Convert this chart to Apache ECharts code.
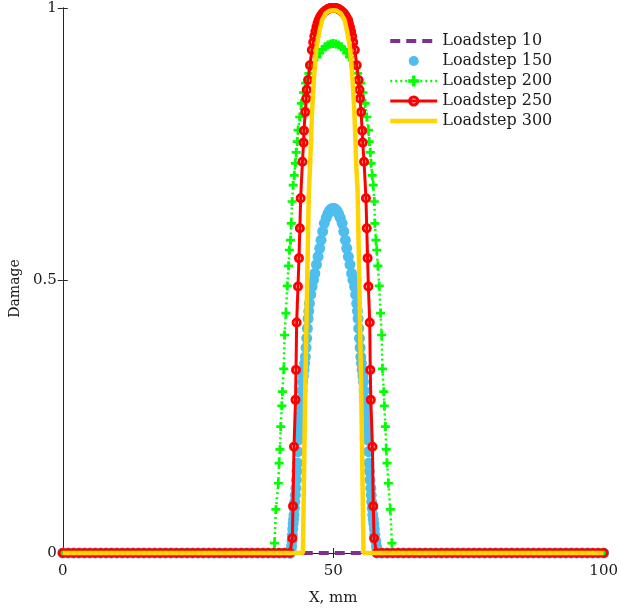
<!DOCTYPE html>
<html>
<head>
<meta charset="utf-8">
<script src="https://cdn.jsdelivr.net/npm/echarts@6/dist/echarts.min.js"></script>
<style>
html, body { margin: 0; padding: 0; background: #fff; }
#chart { width: 621px; height: 613px; }
</style>
</head>
<body>
<div id="chart"></div>
<script>
// mesh nodes (mm) where the damage is still zero
const meshX = [
  0, 1, 2, 3, 4, 5, 6, 7, 8, 9, 10, 11, 12, 13, 14, 15, 16, 17, 18, 19, 20,
  21, 22, 23, 24, 25, 26, 27, 28, 29, 30, 31, 32, 33, 34, 35, 36, 37, 38, 39, 40,
  41, 42, 43, 44, 45, 46, 47, 48, 49, 50, 51, 52, 53, 54, 55, 56, 57, 58, 59, 60,
  61, 62, 63, 64, 65, 66, 67, 68, 69, 70, 71, 72, 73, 74, 75, 76, 77, 78, 79, 80,
  81, 82, 83, 84, 85, 86, 87, 88, 89, 90, 91, 92, 93, 94, 95, 96, 97, 98, 99, 100
]

const xTicks = [0, 50, 100]
const yTicks = [0, 0.5, 1]

// damaged zone of each loadstep: [x, damage]
const step150 = [
  [42.1, 0], [42.2, 0.006], [42.3, 0.012], [42.38, 0.022], [42.45, 0.033], [42.52, 0.044],
  [42.6, 0.054], [42.68, 0.062], [42.75, 0.07], [42.82, 0.082], [42.9, 0.094], [43.0, 0.106],
  [43.1, 0.119], [43.2, 0.134], [43.3, 0.15], [43.4, 0.165], [43.48, 0.186], [43.55, 0.207],
  [43.65, 0.222], [43.75, 0.238], [43.88, 0.253], [44.0, 0.268], [44.15, 0.281], [44.25, 0.298],
  [44.35, 0.314], [44.48, 0.325], [44.6, 0.336], [44.72, 0.348], [44.85, 0.36], [44.98, 0.377],
  [45.1, 0.394], [45.22, 0.412], [45.35, 0.43], [45.48, 0.444], [45.6, 0.458], [45.85, 0.474],
  [46.1, 0.489], [46.35, 0.501], [46.6, 0.513], [46.9, 0.529], [47.2, 0.544], [47.5, 0.559],
  [47.75, 0.574], [48.05, 0.59], [48.35, 0.605], [48.7, 0.615], [49.0, 0.622], [49.25, 0.627],
  [49.5, 0.63], [49.75, 0.632], [50.0, 0.632], [50.25, 0.632], [50.5, 0.63], [50.75, 0.627],
  [51.0, 0.622], [51.3, 0.615], [51.65, 0.605], [51.95, 0.59], [52.25, 0.574], [52.5, 0.559],
  [52.8, 0.544], [53.1, 0.529], [53.4, 0.513], [53.65, 0.501], [53.95, 0.489], [54.15, 0.474],
  [54.35, 0.458], [54.48, 0.444], [54.6, 0.43], [54.72, 0.412], [54.85, 0.394], [54.98, 0.377],
  [55.1, 0.36], [55.22, 0.348], [55.35, 0.336], [55.48, 0.325], [55.6, 0.314], [55.72, 0.298],
  [55.85, 0.281], [56.0, 0.268], [56.12, 0.253], [56.25, 0.238], [56.35, 0.222], [56.45, 0.207],
  [56.52, 0.186], [56.6, 0.165], [56.7, 0.15], [56.8, 0.134], [56.95, 0.119], [57.02, 0.106],
  [57.1, 0.094], [57.2, 0.082], [57.3, 0.07], [57.4, 0.062], [57.5, 0.054], [57.6, 0.044],
  [57.7, 0.033], [57.85, 0.022], [58.0, 0.012], [58.1, 0.006], [58.2, 0]
]

const step200 = [
  [39.15, 0.018], [39.4, 0.08], [39.85, 0.128], [40.0, 0.165], [40.15, 0.19], [40.3, 0.232],
  [40.5, 0.27], [40.6, 0.296], [40.85, 0.338], [41.0, 0.4], [41.25, 0.44], [41.5, 0.49],
  [41.75, 0.527], [41.9, 0.556], [42.1, 0.574], [42.25, 0.605], [42.4, 0.645], [42.6, 0.675],
  [42.8, 0.693], [43.0, 0.715], [43.15, 0.735], [43.35, 0.755], [43.5, 0.776], [43.8, 0.8],
  [44.1, 0.825], [44.5, 0.845], [44.9, 0.862], [45.5, 0.88], [46.2, 0.895], [47.0, 0.91],
  [47.5, 0.917], [48.0, 0.924], [48.5, 0.929], [49.0, 0.932], [49.5, 0.934], [50.0, 0.935],
  [50.5, 0.934], [51.0, 0.932], [51.5, 0.929], [52.0, 0.924], [52.5, 0.917], [53.0, 0.91],
  [53.8, 0.895], [54.5, 0.88], [55.1, 0.862], [55.5, 0.845], [55.9, 0.825], [56.2, 0.8],
  [56.5, 0.776], [56.65, 0.755], [56.85, 0.735], [57.0, 0.715], [57.2, 0.693], [57.4, 0.675],
  [57.6, 0.645], [57.7, 0.605], [57.9, 0.574], [58.05, 0.556], [58.25, 0.527], [58.5, 0.49],
  [58.75, 0.44], [58.95, 0.4], [59.1, 0.338], [59.35, 0.296], [59.45, 0.27], [59.65, 0.232],
  [59.8, 0.19], [59.95, 0.165], [60.2, 0.128], [60.55, 0.08], [60.85, 0.018]
]

const step250 = [
  [42.44, 0.027], [42.57, 0.086], [42.75, 0.195], [43.03, 0.281], [43.12, 0.336], [43.24, 0.423],
  [43.49, 0.489], [43.67, 0.541], [43.83, 0.596], [43.98, 0.651], [44.31, 0.718], [44.52, 0.753],
  [44.59, 0.775], [44.83, 0.809], [45.02, 0.834], [45.1, 0.85], [45.35, 0.868], [45.7, 0.895],
  [46.05, 0.923], [46.3, 0.937], [46.5, 0.948], [46.7, 0.957], [46.9, 0.965], [47.1, 0.972],
  [47.3, 0.978], [47.55, 0.983], [47.8, 0.987], [48.1, 0.991], [48.4, 0.994], [48.7, 0.996],
  [49.0, 0.998], [49.25, 0.999], [49.5, 1.0], [49.75, 1.0], [50.0, 1.0], [50.25, 1.0],
  [50.5, 1.0], [50.75, 0.999], [51.0, 0.998], [51.3, 0.996], [51.6, 0.994], [51.9, 0.991],
  [52.2, 0.987], [52.45, 0.983], [52.75, 0.978], [52.9, 0.972], [53.1, 0.965], [53.3, 0.957],
  [53.5, 0.948], [53.7, 0.937], [54.0, 0.923], [54.35, 0.895], [54.7, 0.868], [54.85, 0.85],
  [54.95, 0.834], [55.15, 0.809], [55.35, 0.775], [55.45, 0.753], [55.7, 0.718], [56.05, 0.651],
  [56.2, 0.596], [56.35, 0.541], [56.5, 0.489], [56.75, 0.423], [56.85, 0.336], [56.95, 0.281],
  [57.25, 0.195], [57.4, 0.086], [57.55, 0.027]
]

const step300 = [
  [44.4, 0], [44.77, 0.262], [45.19, 0.5], [45.5, 0.666], [45.69, 0.703], [46.1, 0.813],
  [46.42, 0.868], [46.84, 0.923], [47.4, 0.955], [47.94, 0.978], [48.6, 0.99], [49.3, 0.995],
  [50.0, 0.996], [50.7, 0.995], [51.4, 0.99], [52.1, 0.978], [52.6, 0.955], [53.16, 0.923],
  [53.58, 0.868], [53.9, 0.813], [54.3, 0.703], [54.5, 0.666], [54.83, 0.5], [55.23, 0.262],
  [55.6, 0]
]

// zero-damage ranges: nodes with x <= lo or x >= hi
const zeroRange = {
  step10: [100, 0],
  step150: [42, 59],
  step200: [39, 61],
  step250: [42, 58],
  step300: [44, 56]
}

function withZeros(profile, range) {
  const zeros = meshX.filter(x => x <= range[0] || x >= range[1]).map(x => [x, 0])
  return zeros.concat(profile).sort((a, b) => a[0] - b[0])
}

const FONT = 'DejaVu Serif'
const plusPath = 'path://M3.5,0H6.5V3.5H10V6.5H6.5V10H3.5V6.5H0V3.5H3.5Z'
const ringPath = 'path://M0,5A5,5,0,1,1,10,5A5,5,0,1,1,0,5ZM2.8,5A2.2,2.2,0,1,0,7.2,5A2.2,2.2,0,1,0,2.8,5Z'
// smaller dot inside a 14x14 box, for the legend only
const dotIcon = 'path://M0,0M14,14M2,7A5,5,0,1,1,12,7A5,5,0,1,1,2,7Z'

const axisColor = '#262626'
const textColor = '#1a1a1a'

const chart = echarts.init(document.getElementById('chart'))

chart.setOption({
  animation: false,
  backgroundColor: '#fff',
  textStyle: { fontFamily: FONT },
  grid: { left: 62, right: 14, top: 8, bottom: 60 },
  legend: {
    orient: 'vertical',
    left: 383,
    top: 28,
    itemWidth: 47,
    itemHeight: 14,
    itemGap: 4,
    itemTextGap: 4,
    formatter: '{s|{name}}',
    textStyle: {
      fontFamily: FONT, fontSize: 16, color: textColor,
      rich: { s: { fontFamily: FONT, fontSize: 16, color: textColor } }
    },
    data: [
      { name: 'Loadstep 10', itemStyle: { opacity: 0 }, lineStyle: { width: 4 } },
      { name: 'Loadstep 150', icon: dotIcon },
      { name: 'Loadstep 200', lineStyle: { width: 2.5 } },
      { name: 'Loadstep 250', lineStyle: { width: 3 } },
      { name: 'Loadstep 300', itemStyle: { opacity: 0 }, lineStyle: { width: 4.5 } }
    ]
  },
  xAxis: [
    {
      type: 'value', min: xTicks[0], max: xTicks[2], interval: 50,
      name: 'X, mm', nameLocation: 'middle', nameGap: 38,
      nameTextStyle: { fontFamily: FONT, fontSize: 15, color: textColor },
      axisLine: { lineStyle: { color: axisColor } },
      axisTick: { inside: true, length: 5, lineStyle: { color: axisColor } },
      axisLabel: { fontFamily: FONT, fontSize: 15, color: textColor, margin: 11 },
      splitLine: { show: false }
    },
    {
      type: 'value', position: 'top', min: xTicks[0], max: xTicks[2], interval: 50,
      axisLine: { lineStyle: { color: axisColor } },
      axisTick: { inside: true, length: 5, lineStyle: { color: axisColor } },
      axisLabel: { show: false },
      splitLine: { show: false }
    }
  ],
  yAxis: [
    {
      type: 'value', min: yTicks[0], max: yTicks[2], interval: 0.5,
      name: 'Damage', nameLocation: 'middle', nameGap: 38,
      nameTextStyle: { fontFamily: FONT, fontSize: 14, color: textColor, padding: [0, 16, 0, 0] },
      axisLine: { show: true, lineStyle: { color: axisColor } },
      axisTick: { show: true, inside: true, length: 5, lineStyle: { color: axisColor } },
      axisLabel: { fontFamily: FONT, fontSize: 15, color: textColor, margin: 6 },
      splitLine: { show: false }
    },
    {
      type: 'value', position: 'right', min: yTicks[0], max: yTicks[2], interval: 0.5,
      axisLine: { show: true, lineStyle: { color: axisColor } },
      axisTick: { show: true, inside: true, length: 5, lineStyle: { color: axisColor } },
      axisLabel: { show: false },
      splitLine: { show: false }
    }
  ],
  series: [
    {
      name: 'Loadstep 10', type: 'line', z: 2, clip: false,
      data: withZeros([], zeroRange.step10),
      symbol: 'none',
      itemStyle: { color: '#7E2F8E' },
      lineStyle: { color: '#7E2F8E', width: 4, type: [10, 6] }
    },
    {
      name: 'Loadstep 150', type: 'scatter', z: 3, clip: false,
      data: withZeros(step150, zeroRange.step150),
      symbol: 'circle', symbolSize: 11,
      itemStyle: { color: '#4DBEEE', opacity: 1 }
    },
    {
      name: 'Loadstep 200', type: 'line', z: 4, clip: false,
      data: withZeros(step200, zeroRange.step200),
      symbol: plusPath, symbolSize: 9, showAllSymbol: true,
      itemStyle: { color: '#00FF00' },
      lineStyle: { color: '#00FF00', width: 2.5, type: [2, 3] }
    },
    {
      name: 'Loadstep 250', type: 'line', z: 5, clip: false,
      data: withZeros(step250, zeroRange.step250),
      symbol: ringPath, symbolSize: 10, showAllSymbol: true,
      itemStyle: { color: '#FF0000' },
      lineStyle: { color: '#FF0000', width: 3 }
    },
    {
      name: 'Loadstep 300', type: 'line', z: 6, clip: false,
      data: withZeros(step300, zeroRange.step300),
      symbol: 'none',
      itemStyle: { color: '#FFD400' },
      lineStyle: { color: '#FFD400', width: 4.5 }
    }
  ]
})
</script>
</body>
</html>
